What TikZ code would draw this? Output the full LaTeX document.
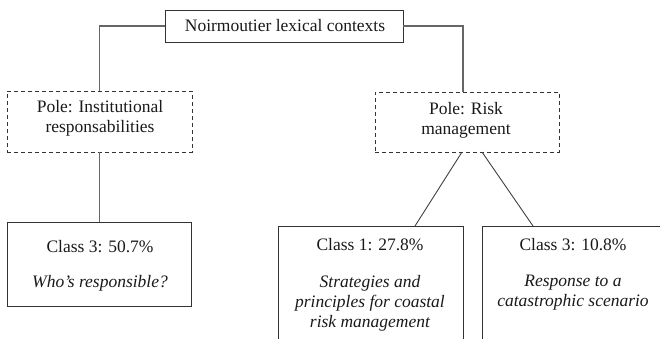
\documentclass[tikz,border=0pt]{standalone}
\usepackage{fontspec}
\setmainfont{Liberation Serif}
\begin{document}
\begin{tikzpicture}[x=1pt,y=-1pt,
  box/.style={draw=black!80,line width=0.9pt,rectangle,inner sep=0pt},
  polebox/.style={box,dashed,dash pattern=on 4pt off 3pt},
  conn/.style={draw=black!60,line width=1.3pt},
  diag/.style={draw=black!75,line width=0.9pt},
  txt/.style={font=\fontsize{17.5}{20}\selectfont,align=center,inner sep=0pt,text=black!90}]
\useasboundingbox (0,0) rectangle (660,338);
\begin{scope}
\clip (0,0) rectangle (660,338);
% boxes
\node[box,minimum width=238pt,minimum height=32pt] (top) at (284,26) {};
\node[polebox,minimum width=185pt,minimum height=61pt] (pole1) at (99.5,121.5) {};
\node[polebox,minimum width=184pt,minimum height=60pt] (pole2) at (467,122) {};
\node[box,minimum width=184pt,minimum height=84pt] (c3l) at (99,264) {};
\node[box,minimum width=185pt,minimum height=140pt] (c1) at (370.5,296) {};
\node[box,minimum width=183pt,minimum height=140pt] (c3r) at (573.5,296) {};
% texts
\node[txt] (ttop) at (285,26) {Noirmoutier lexical contexts};
\node[txt] (tp1) at (100,118) {Pole: Institutional\\responsabilities};
\node[txt] (tp2) at (466,120) {Pole: Risk\\management};
\node[txt] (tc3lh) at (100,247) {Class 3: 50.7\%};
\node[txt] (tc3lb) at (100,283) {\itshape Who’s responsible?};
\node[txt] (tc1h) at (370,245) {Class 1: 27.8\%};
\node[txt] (tc1b) at (370,303) {\itshape Strategies and\\\itshape principles for coastal\\\itshape risk management};
\node[txt] (tc3rh) at (573,245) {Class 3: 10.8\%};
\node[txt] (tc3rb) at (573,293) {\itshape Response to a\\\itshape catastrophic scenario};
% connectors
\coordinate (p2in) at (463,92);
\draw[conn] (top.west) -| (pole1.north);
\draw[conn] (top.east) -| (p2in);
\draw[conn] (pole1.south) -- (pole1.south |- c3l.north);
\coordinate (d1a) at (462,152);
\coordinate (d1b) at (415,226);
\coordinate (d2a) at (482,152);
\coordinate (d2b) at (533,226);
\draw[diag] (d1a) -- (d1b);
\draw[diag] (d2a) -- (d2b);
\end{scope}
\end{tikzpicture}
\end{document}
